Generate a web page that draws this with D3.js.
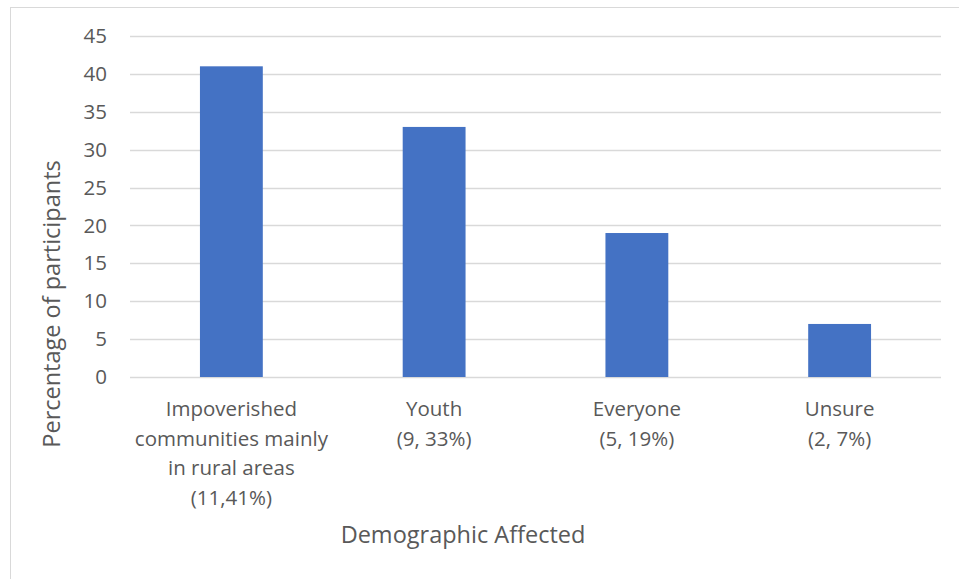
<!DOCTYPE html>
<html>
<head>
<meta charset="utf-8">
<script src="https://cdn.jsdelivr.net/npm/d3@7"></script>
<style>
  html, body { margin: 0; padding: 0; background: #fff; }
  svg text { font-family: "Open Sans", sans-serif; fill: #595959; }
</style>
</head>
<body>
<svg id="chart" width="959" height="579"></svg>
<script>
// Share of participants by affected demographic
const categories = ["Impoverished communities mainly in rural areas", "Youth", "Everyone", "Unsure"];
const categoryLines = [
  ["Impoverished", "communities mainly", "in rural areas", "(11,41%)"],
  ["Youth", "(9, 33%)"],
  ["Everyone", "(5, 19%)"],
  ["Unsure", "(2, 7%)"]
];
const percentages = [41, 33, 19, 7];
const yTicks = [0, 5, 10, 15, 20, 25, 30, 35, 40, 45];

const svg = d3.select("#chart");
const W = 959, H = 579;
const margin = { left: 130, right: 18, top: 36, bottom: 202 };

// outer frame of the chart area
svg.append("rect")
  .attr("x", 10.5).attr("y", 7.5)
  .attr("width", 960).attr("height", 580)
  .attr("fill", "#fff").attr("stroke", "#d9d9d9").attr("stroke-width", 1);

const x = d3.scaleBand()
  .domain(categories)
  .range([margin.left, W - margin.right])
  .paddingInner(0.69).paddingOuter(0.345);

const y = d3.scaleLinear()
  .domain([0, 45])
  .range([H - margin.bottom, margin.top]);

// horizontal gridlines
svg.append("g")
  .selectAll("line")
  .data(yTicks)
  .join("line")
  .attr("x1", margin.left).attr("x2", W - margin.right)
  .attr("y1", d => Math.round(y(d)) + 0.5).attr("y2", d => Math.round(y(d)) + 0.5)
  .attr("stroke", "#d9d9d9").attr("stroke-width", 1.3);

// y tick labels
const yAxis = d3.axisLeft(y).tickValues(yTicks).tickSize(0).tickPadding(23);
const gy = svg.append("g").attr("transform", `translate(${margin.left},0)`).call(yAxis);
gy.select(".domain").remove();
gy.selectAll("text")
  .attr("font-size", 20.5)
  .attr("font-family", "'Open Sans', sans-serif")
  .attr("fill", "#595959");

// bars
svg.append("g")
  .selectAll("rect")
  .data(percentages)
  .join("rect")
  .attr("x", (d, i) => x(categories[i]))
  .attr("y", d => y(d))
  .attr("width", x.bandwidth())
  .attr("height", d => y(0) - y(d))
  .attr("fill", "#4472c4");

// category labels (multi-line)
const cat = svg.append("g")
  .selectAll("text")
  .data(categories)
  .join("text")
  .attr("x", d => x(d) + x.bandwidth() / 2)
  .attr("y", 416)
  .attr("text-anchor", "middle")
  .attr("font-size", 20.5);
cat.each(function(d, i) {
  d3.select(this).selectAll("tspan")
    .data(categoryLines[i])
    .join("tspan")
    .attr("x", x(d) + x.bandwidth() / 2)
    .attr("dy", (t, j) => j === 0 ? 0 : 29.5)
    .text(t => t);
});

// axis titles
svg.append("text")
  .attr("x", 463)
  .attr("y", 543)
  .attr("text-anchor", "middle")
  .attr("font-size", 23.5)
  .text("Demographic Affected");

svg.append("text")
  .attr("transform", "translate(60, 304) rotate(-90)")
  .attr("text-anchor", "middle")
  .attr("font-size", 23.5)
  .text("Percentage of participants");
</script>
</body>
</html>
